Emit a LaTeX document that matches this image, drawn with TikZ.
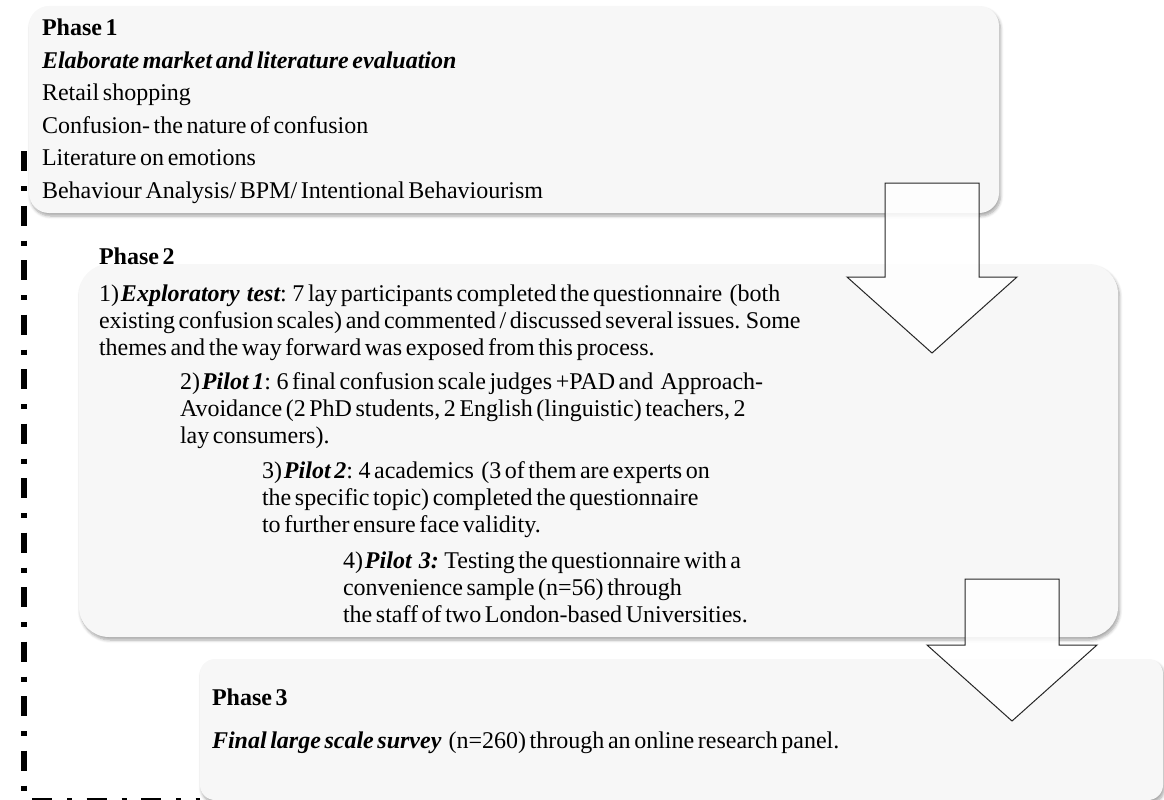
\documentclass[tikz,border=0pt]{standalone}
\usepackage{fontspec}
\setmainfont[WordSpace=0.6]{Liberation Serif}
\usetikzlibrary{shadows.blur}
\definecolor{panelfill}{HTML}{F7F7F7}
% bold italic for the emphasised terms, set close after the step number
\newcommand{\emterm}[1]{{\bfseries\itshape #1}}
\newcommand{\stepno}[1]{#1)\kern2pt}
\begin{document}
\begin{tikzpicture}[x=1pt,y=-1pt,
  panel/.style={fill=panelfill, draw=none, inner sep=0pt, outer sep=0pt, anchor=north west,
    blur shadow={shadow xshift=1.5pt, shadow yshift=-3pt, shadow blur radius=3pt,
                 shadow blur steps=6, shadow opacity=35}},
  txt/.style={anchor=base west, inner sep=0pt, outer sep=0pt, font=\fontsize{24}{24}\selectfont},
  hd/.style={txt, font=\fontsize{24}{24}\selectfont\bfseries},
  blockarrow/.style={draw=black!85, line width=1pt, fill=white, fill opacity=0.85, line join=miter},
  guide/.style={line width=6pt, dash pattern=on 20pt off 15pt on 5pt off 14.5pt}
]
\useasboundingbox (0,0) rectangle (1164,800);

% dash-dot guide line on the left
\coordinate (g1) at (24,151);
\coordinate (g2) at (24,797);
\coordinate (g3) at (32,801);
\coordinate (g4) at (200,801);
\draw[guide] (g1) -- (g2);
\draw[guide] (g3) -- (g4);

% the three phase panels
\node[panel, rounded corners=20pt, minimum width=970pt, minimum height=207pt] (p1) at (29,6) {};
\node[panel, rounded corners=30pt, minimum width=1039pt, minimum height=373pt] (p2) at (79,264) {};
\node[panel, rounded corners=15pt, minimum width=963pt, minimum height=141pt] (p3) at (200,659) {};

% Phase 1
\node[hd] (t1a) at (42,36) {Phase 1};
\node[txt] (t1b) at (42,68.4) {\emterm{Elaborate market and literature evaluation}};
\node[txt] (t1c) at (42,100.8) {Retail shopping};
\node[txt] (t1d) at (42,133.2) {Confusion- the nature of confusion};
\node[txt] (t1e) at (42,165.6) {Literature on emotions};
\node[txt] (t1f) at (42,198) {Behaviour Analysis/ BPM/ Intentional Behaviourism};

% Phase 2
\node[hd] (t2) at (99,264) {Phase 2};
\node[txt] (s1a) at (99,301.5) {\stepno{1}\emterm{Exploratory\ \ test}: 7 lay participants completed the questionnaire\ \ (both};
\node[txt] (s1b) at (99,328.5) {existing confusion scales) and commented / discussed several issues. Some};
\node[txt] (s1c) at (99,355.5) {themes and the way forward was exposed from this process.};
\node[txt] (s2a) at (180,389) {\stepno{2}\emterm{Pilot 1}: 6 final confusion scale judges +PAD and\ \ Approach-};
\node[txt] (s2b) at (180,416.5) {Avoidance (2 PhD students, 2 English (linguistic) teachers, 2};
\node[txt] (s2c) at (180,443.5) {lay consumers).};
\node[txt] (s3a) at (262,478) {\stepno{3}\emterm{Pilot 2}: 4 academics\ \ (3 of them are experts on};
\node[txt] (s3b) at (262,505.5) {the specific topic) completed the questionnaire};
\node[txt] (s3c) at (262,532.5) {to further ensure face validity.};
\node[txt] (s4a) at (343,568) {\stepno{4}\emterm{Pilot\ \ 3:} Testing the questionnaire with a};
\node[txt] (s4b) at (343,595) {convenience sample (n=56) through};
\node[txt] (s4c) at (343,622) {the staff of two London-based Universities.};

% Phase 3
\node[hd] (t3) at (212,705) {Phase 3};
\node[txt] (t3b) at (212,748) {\emterm{Final large scale survey}\ \ (n=260) through an online research panel.};

% block arrows between the phases
\coordinate (a1) at (932,183);
\draw[blockarrow] (a1) ++(-47,0) -- ++(94,0) -- ++(0,94) -- ++(38,0) -- ++(-85,76)
  -- ++(-85,-76) -- ++(38,0) -- cycle;
\coordinate (a2) at (1012,579);
\draw[blockarrow] (a2) ++(-47,0) -- ++(94,0) -- ++(0,66) -- ++(38,0) -- ++(-85,76)
  -- ++(-85,-76) -- ++(38,0) -- cycle;
\end{tikzpicture}
\end{document}
